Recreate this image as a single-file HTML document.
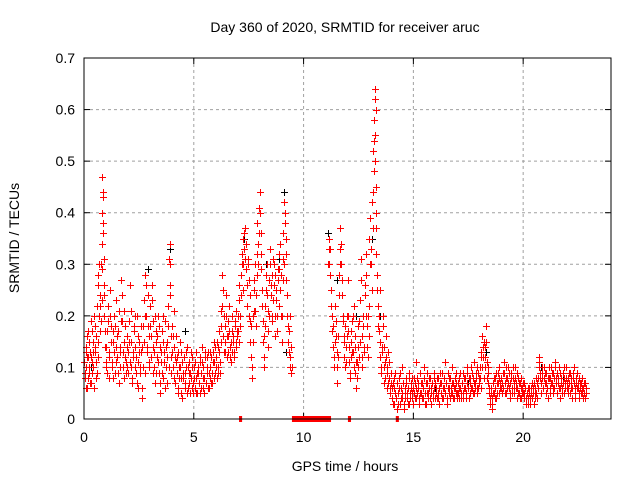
<!DOCTYPE html>
<html><head><meta charset="utf-8"><style>
html,body{margin:0;padding:0;background:#fff;width:640px;height:480px;overflow:hidden}
svg text{font-family:"Liberation Sans",sans-serif;font-size:14px;fill:#000}
</style></head><body>
<svg id="chart" width="640" height="480" xmlns="http://www.w3.org/2000/svg">
<rect width="640" height="480" fill="#fff"/>
<g id="grid"></g>
<g id="ticks"></g>
<g id="marks"></g>
<rect x="84" y="58" width="527" height="361" fill="none" stroke="#000" stroke-width="1"/>
<text x="345" y="32" text-anchor="middle">Day 360 of 2020, SRMTID for receiver aruc</text>
<text x="345" y="471" text-anchor="middle">GPS time / hours</text>
<text x="19" y="238" text-anchor="middle" transform="rotate(-90 19 238)">SRMTID / TECUs</text>
</svg>
<script>
const xTicks=[0,5,10,15,20];
const yTicks=[0,0.1,0.2,0.3,0.4,0.5,0.6,0.7];
const yTickLabels=["0","0.1","0.2","0.3","0.4","0.5","0.6","0.7"];
const redT=[0.02,0.05,0.08,0.1,0.13,0.16,0.2,0.23,0.26,0.3,0.33,0.36,0.4,0.43,0.46,0.5,0.53,0.56,0.6,0.63,0.66,0.7,0.73,0.76,0.8,0.82,0.84,0.86,0.88,0.9,0.93,0.96,
1.0,1.04,1.08,1.12,1.16,1.2,1.24,1.28,1.32,1.36,1.4,1.44,1.48,1.52,1.56,1.6,1.64,1.68,1.72,1.76,1.8,1.84,1.88,1.92,1.96,
2.0,2.04,2.08,2.12,2.16,2.2,2.24,2.28,2.32,2.36,2.4,2.44,2.48,2.52,2.56,2.6,2.64,2.68,2.72,2.76,2.8,2.84,2.88,2.92,2.96,
3.0,3.04,3.08,3.12,3.16,3.2,3.24,3.28,3.32,3.36,3.4,3.44,3.48,3.52,3.56,3.6,3.64,3.68,3.72,3.76,3.8,3.84,3.88,3.9,3.92,3.96,
4.0,4.04,4.08,4.12,4.16,4.2,4.24,4.28,4.32,4.36,4.4,4.44,4.48,4.52,4.56,4.6,4.64,4.68,4.72,4.76,4.8,4.84,4.88,4.92,4.96,
5.0,5.04,5.08,5.12,5.16,5.2,5.24,5.28,5.32,5.36,5.4,5.44,5.48,5.52,5.56,5.6,5.64,5.68,5.72,5.76,5.8,5.84,5.88,5.92,5.96,
6.0,6.04,6.08,6.12,6.16,6.2,6.24,6.28,6.32,6.36,6.4,6.44,6.48,6.52,6.56,6.6,6.64,6.68,6.72,6.76,6.8,6.84,6.88,6.92,6.96,
7.0,7.04,7.08,7.12,7.16,7.2,7.24,7.28,7.32,7.36,7.4,7.44,7.48,7.52,7.56,7.6,7.64,7.68,7.72,7.76,7.8,7.84,7.88,7.92,7.96,
8.0,8.04,8.08,8.12,8.16,8.2,8.24,8.28,8.32,8.36,8.4,8.44,8.48,8.52,8.56,8.6,8.64,8.68,8.72,8.76,8.8,8.84,8.88,8.92,8.96,
9.0,9.04,9.08,9.12,9.16,9.2,9.24,9.28,9.32,9.36,9.4,9.44,
11.12,11.16,11.2,11.24,11.28,11.32,11.36,11.4,11.44,11.48,11.52,11.56,11.6,11.64,11.68,11.72,11.76,11.8,11.84,11.88,11.92,11.96,
12.0,12.04,12.08,12.12,12.16,12.2,12.24,12.28,12.32,12.36,12.4,12.44,12.48,12.52,12.56,12.6,12.64,12.68,12.72,12.76,12.8,12.84,12.88,12.92,12.96,
13.0,13.04,13.08,13.12,13.16,13.2,13.22,13.24,13.26,13.28,13.3,13.34,13.38,13.42,13.46,13.5,13.54,13.58,13.62,13.66,13.7,13.74,13.78,13.82,13.86,13.9,13.94,13.98,
14.02,14.06,14.1,14.14,14.18,14.22,14.26,14.3,14.34,14.38,14.42,14.46,14.5,14.54,14.58,14.62,14.66,14.7,14.74,14.78,14.82,14.86,14.9,14.94,14.98,
15.02,15.06,15.1,15.14,15.18,15.22,15.26,15.3,15.34,15.38,15.42,15.46,15.5,15.54,15.58,15.62,15.66,15.7,15.74,15.78,15.82,15.86,15.9,15.94,15.98,
16.02,16.06,16.1,16.14,16.18,16.22,16.26,16.3,16.34,16.38,16.42,16.46,16.5,16.54,16.58,16.62,16.66,16.7,16.74,16.78,16.82,16.86,16.9,16.94,16.98,
17.02,17.06,17.1,17.14,17.18,17.22,17.26,17.3,17.34,17.38,17.42,17.46,17.5,17.54,17.58,17.62,17.66,17.7,17.74,17.78,17.82,17.86,17.9,17.94,17.98,
18.02,18.06,18.1,18.14,18.18,18.22,18.26,18.3,18.34,18.38,18.42,18.46,18.5,18.54,18.58,18.62,18.66,18.7,18.74,18.78,18.82,18.86,18.9,18.94,18.98,
19.02,19.06,19.1,19.14,19.18,19.22,19.26,19.3,19.34,19.38,19.42,19.46,19.5,19.54,19.58,19.62,19.66,19.7,19.74,19.78,19.82,19.86,19.9,19.94,19.98,
20.02,20.06,20.1,20.14,20.18,20.22,20.26,20.3,20.34,20.38,20.42,20.46,20.5,20.54,20.58,20.62,20.66,20.7,20.74,20.78,20.82,20.86,20.9,20.94,20.98,
21.02,21.06,21.1,21.14,21.18,21.22,21.26,21.3,21.34,21.38,21.42,21.46,21.5,21.54,21.58,21.62,21.66,21.7,21.74,21.78,21.82,21.86,21.9,21.94,21.98,
22.02,22.06,22.1,22.14,22.18,22.22,22.26,22.3,22.34,22.38,22.42,22.46,22.5,22.54,22.58,22.62,22.66,22.7,22.74,22.78,22.82,22.86];
const redV=[.11,.08,.14,.1,.06,.12,.17,.09,.13,.19,.07,.11,.15,.1,.2,.13,.08,.16,.22,.12,.28,.3,.24,.19,.34,.4,.47,.43,.38,.26,.2,.14,
.1,.17,.22,.08,.13,.25,.18,.11,.15,.2,.09,.14,.23,.12,.17,.07,.13,.27,.19,.1,.15,.21,.12,.09,.16,
.13,.19,.26,.1,.15,.07,.12,.18,.14,.09,.2,.11,.06,.15,.1,.13,.04,.18,.23,.09,.28,.2,.14,.24,.11,
.22,.16,.26,.09,.19,.13,.07,.17,.12,.2,.09,.14,.05,.11,.17,.08,.13,.19,.1,.15,.07,.22,.31,.34,.26,.12,
.18,.1,.14,.21,.07,.16,.12,.05,.1,.15,.08,.13,.04,.09,.12,.07,.1,.14,.06,.09,.11,.05,.08,.12,.07,
.1,.06,.08,.13,.05,.09,.07,.11,.06,.14,.08,.1,.05,.12,.07,.09,.13,.06,.1,.08,.12,.07,.11,.15,.09,
.12,.08,.14,.1,.17,.09,.21,.28,.25,.13,.18,.15,.2,.12,.16,.22,.14,.11,.17,.13,.15,.12,.19,.14,.17,
.2,.15,.26,.18,.24,.3,.35,.33,.37,.29,.34,.22,.31,.27,.19,.12,.08,.15,.21,.25,.3,.18,.28,.34,.41,
.44,.36,.29,.22,.15,.1,.18,.25,.3,.21,.14,.27,.33,.24,.19,.31,.26,.2,.28,.23,.17,.29,.32,.25,.2,
.15,.27,.36,.42,.4,.32,.24,.18,.13,.2,.1,.09,
.3,.35,.33,.25,.2,.14,.18,.1,.22,.16,.07,.12,.28,.33,.37,.3,.24,.19,.15,.1,.14,.2,
.17,.27,.11,.08,.15,.19,.13,.22,.09,.14,.06,.11,.18,.12,.23,.31,.16,.1,.2,.14,.26,.32,.18,.12,.22,
.35,.39,.3,.42,.52,.54,.58,.62,.64,.45,.37,.28,.22,.17,.12,.25,.09,.14,.2,.07,.11,.16,.06,.1,.13,.08,.05,.09,
.04,.07,.03,.06,.09,.04,.02,.05,.08,.03,.06,.1,.04,.07,.02,.05,.08,.04,.06,.03,.09,.05,.07,.04,.06,
.08,.04,.06,.11,.05,.07,.03,.09,.05,.07,.04,.06,.1,.05,.03,.07,.05,.08,.04,.06,.03,.07,.05,.09,.04,
.06,.04,.08,.05,.03,.07,.05,.09,.04,.06,.11,.05,.07,.03,.06,.08,.04,.06,.1,.05,.07,.04,.06,.09,.05,
.07,.04,.06,.09,.05,.07,.04,.06,.08,.05,.07,.1,.06,.04,.08,.06,.09,.05,.07,.11,.06,.08,.05,.09,.07,
.1,.06,.13,.16,.12,.08,.14,.18,.11,.07,.09,.05,.03,.06,.02,.05,.08,.04,.06,.09,.05,.07,.1,.06,.08,
.05,.09,.06,.11,.07,.05,.08,.1,.06,.04,.07,.09,.05,.08,.06,.1,.07,.04,.06,.08,.05,.07,.04,.06,.05,
.07,.04,.06,.03,.05,.04,.06,.03,.05,.07,.04,.06,.03,.05,.08,.04,.06,.1,.12,.08,.05,.09,.06,.1,.07,
.05,.09,.06,.04,.08,.06,.1,.07,.05,.09,.06,.11,.08,.05,.07,.1,.06,.04,.08,.06,.09,.05,.07,.1,.06,
.08,.05,.07,.09,.06,.04,.08,.1,.06,.05,.07,.09,.06,.04,.07,.05,.08,.06,.04,.05,.07,.05];
const redV2=[.09,.13,.06,.16,.12,.08,.1,.15,.07,.12,.17,.09,.13,.06,.14,.18,.11,.09,.15,.26,.2,.17,.22,.3,.23,.29,.36,.44,.31,.24,.17,.11,
.14,.09,.19,.12,.2,.15,.1,.17,.08,.13,.18,.11,.16,.09,.21,.14,.1,.19,.24,.13,.08,.18,.11,.14,.1,
.09,.15,.11,.21,.08,.13,.17,.1,.2,.12,.07,.16,.13,.09,.18,.06,.14,.1,.15,.2,.26,.13,.18,.1,.16,
.18,.12,.23,.14,.1,.2,.15,.09,.16,.11,.18,.07,.13,.09,.15,.2,.11,.06,.14,.12,.18,.1,.24,.3,.16,.09,
.13,.16,.08,.12,.11,.09,.06,.13,.08,.1,.05,.11,.08,.12,.06,.09,.13,.05,.1,.07,.09,.13,.06,.1,.05,
.08,.11,.05,.09,.1,.07,.12,.05,.09,.11,.06,.08,.13,.07,.1,.12,.06,.09,.13,.07,.09,.13,.08,.11,.14,
.1,.15,.09,.13,.11,.15,.18,.22,.16,.2,.13,.24,.16,.19,.13,.17,.12,.15,.2,.16,.13,.18,.15,.21,.16,
.17,.23,.2,.28,.32,.25,.3,.36,.31,.34,.26,.3,.2,.24,.15,.18,.1,.2,.27,.21,.24,.32,.38,.3,.36,
.4,.32,.25,.19,.12,.16,.22,.28,.24,.17,.2,.3,.26,.2,.28,.23,.3,.16,.25,.2,.27,.22,.29,.34,.28,
.2,.31,.3,.38,.35,.27,.2,.15,.17,.12,.14,.1,
.33,.3,.28,.22,.17,.18,.12,.15,.19,.13,.1,.16,.24,.3,.34,.27,.2,.16,.12,.18,.11,.16,
.2,.14,.09,.12,.17,.13,.2,.1,.16,.11,.08,.14,.1,.19,.15,.27,.12,.18,.13,.24,.2,.28,.14,.2,.16,
.3,.33,.25,.37,.44,.48,.5,.55,.6,.4,.32,.25,.18,.2,.15,.1,.13,.18,.1,.14,.08,.12,.09,.07,.11,.06,.09,.07,
.06,.03,.08,.05,.04,.07,.05,.03,.06,.09,.04,.05,.07,.03,.06,.04,.07,.05,.03,.08,.04,.06,.05,.08,.03,
.05,.07,.04,.08,.06,.04,.09,.05,.07,.04,.06,.08,.03,.07,.05,.09,.04,.06,.08,.05,.07,.04,.08,.06,.07,
.05,.08,.04,.06,.09,.05,.07,.04,.06,.08,.05,.07,.04,.09,.05,.06,.08,.05,.07,.04,.06,.08,.05,.07,.04,
.05,.08,.06,.04,.07,.09,.05,.08,.06,.04,.09,.06,.08,.05,.07,.1,.06,.08,.05,.07,.09,.06,.1,.06,.08,
.08,.12,.1,.14,.15,.1,.12,.15,.08,.1,.06,.04,.05,.03,.04,.07,.05,.08,.04,.07,.09,.05,.08,.07,.06,
.07,.06,.09,.05,.08,.1,.06,.07,.09,.05,.08,.06,.1,.07,.05,.08,.06,.09,.05,.07,.04,.06,.08,.05,.07,
.05,.06,.04,.05,.06,.03,.05,.04,.06,.04,.05,.07,.04,.06,.05,.07,.08,.11,.09,.07,.1,.08,.06,.08,.09,
.07,.06,.08,.1,.05,.08,.07,.09,.06,.08,.1,.07,.05,.09,.08,.06,.09,.07,.05,.07,.1,.08,.06,.08,.07,
.06,.09,.05,.07,.08,.06,.09,.07,.04,.08,.06,.07,.05,.08,.06,.07,.05,.06,.07,.04,.06,.06];
const blackT=[0.3,1.0,1.7,2.9,3.9,4.6,6.5,7.3,8.3,8.9,9.1,9.2,11.1,11.5,12.4,13.1,13.3,13.5,14.5,16,17.5,18.3,19.5,20.8,21.8,22.5];
const blackV=[.1,.14,.27,.29,.33,.17,.12,.35,.3,.31,.44,.13,.36,.27,.2,.35,.45,.2,.05,.06,.07,.13,.06,.1,.08,.07];
const gapStart=[7.06,9.47,12.02,14.2];
const gapEnd=[7.2,11.25,12.16,14.34];

const X0=84,X1=611,Y0=419,Y1=58,XMAX=24,YMAX=0.7;
function sx(t){return X0+(X1-X0)*t/XMAX;}
function sy(v){return Y0-(Y0-Y1)*v/YMAX;}
const NS="http://www.w3.org/2000/svg";
function mk(tag,parent,attrs){const e=document.createElementNS(NS,tag);for(const k in attrs)e.setAttribute(k,attrs[k]);parent.appendChild(e);return e;}
const grid=document.getElementById('grid'),ticks=document.getElementById('ticks'),marks=document.getElementById('marks');
xTicks.forEach(t=>{
  const x=sx(t);
  if(t>0){const g=mk('line',grid,{x1:x,x2:x,y1:Y1,y2:Y0,stroke:'#a0a0a0','stroke-dasharray':'3,3'});
  
  }
  mk('line',ticks,{x1:x,x2:x,y1:Y0,y2:Y0-6,stroke:'#000'});
  mk('line',ticks,{x1:x,x2:x,y1:Y1,y2:Y1+6,stroke:'#000'});
  const l=mk('text',ticks,{x:x,y:Y0+23,'text-anchor':'middle'});l.textContent=t;
  
  
});
yTicks.forEach((v,i)=>{
  const y=sy(v);
  if(v>0&&v<0.7){const g=mk('line',grid,{x1:X0,x2:X1,y1:y,y2:y,stroke:'#a0a0a0','stroke-dasharray':'3,3'});
  
  }
  mk('line',ticks,{x1:X0,x2:X0+6,y1:y,y2:y,stroke:'#000'});
  mk('line',ticks,{x1:X1,x2:X1-6,y1:y,y2:y,stroke:'#000'});
  const l=mk('text',ticks,{x:X0-9,y:y+5,'text-anchor':'end'});l.textContent=yTickLabels[i];
  
  
});
function plus(t,v,color,name){
  const x=Math.round(sx(t))+0.5,y=Math.round(sy(v))+0.5;
  const p=mk('path',marks,{d:`M${x-3.5} ${y}H${x+3.5}M${x} ${y-3.5}V${y+3.5}`,stroke:color,'stroke-width':1,fill:'none'});
  
  
}
blackT.forEach((t,i)=>plus(t,blackV[i],'#000','black-point'));
redT.forEach((t,i)=>plus(t+0.02,redV2[i],'#f00','red-point-b'));
redT.forEach((t,i)=>plus(t,redV[i],'#f00','red-point'));
gapStart.forEach((s,i)=>{
  const r=mk('rect',marks,{x:sx(s),y:Y0-3,width:sx(gapEnd[i])-sx(s),height:6,fill:'#f00'});
  
  
});
</script>
</body></html>
